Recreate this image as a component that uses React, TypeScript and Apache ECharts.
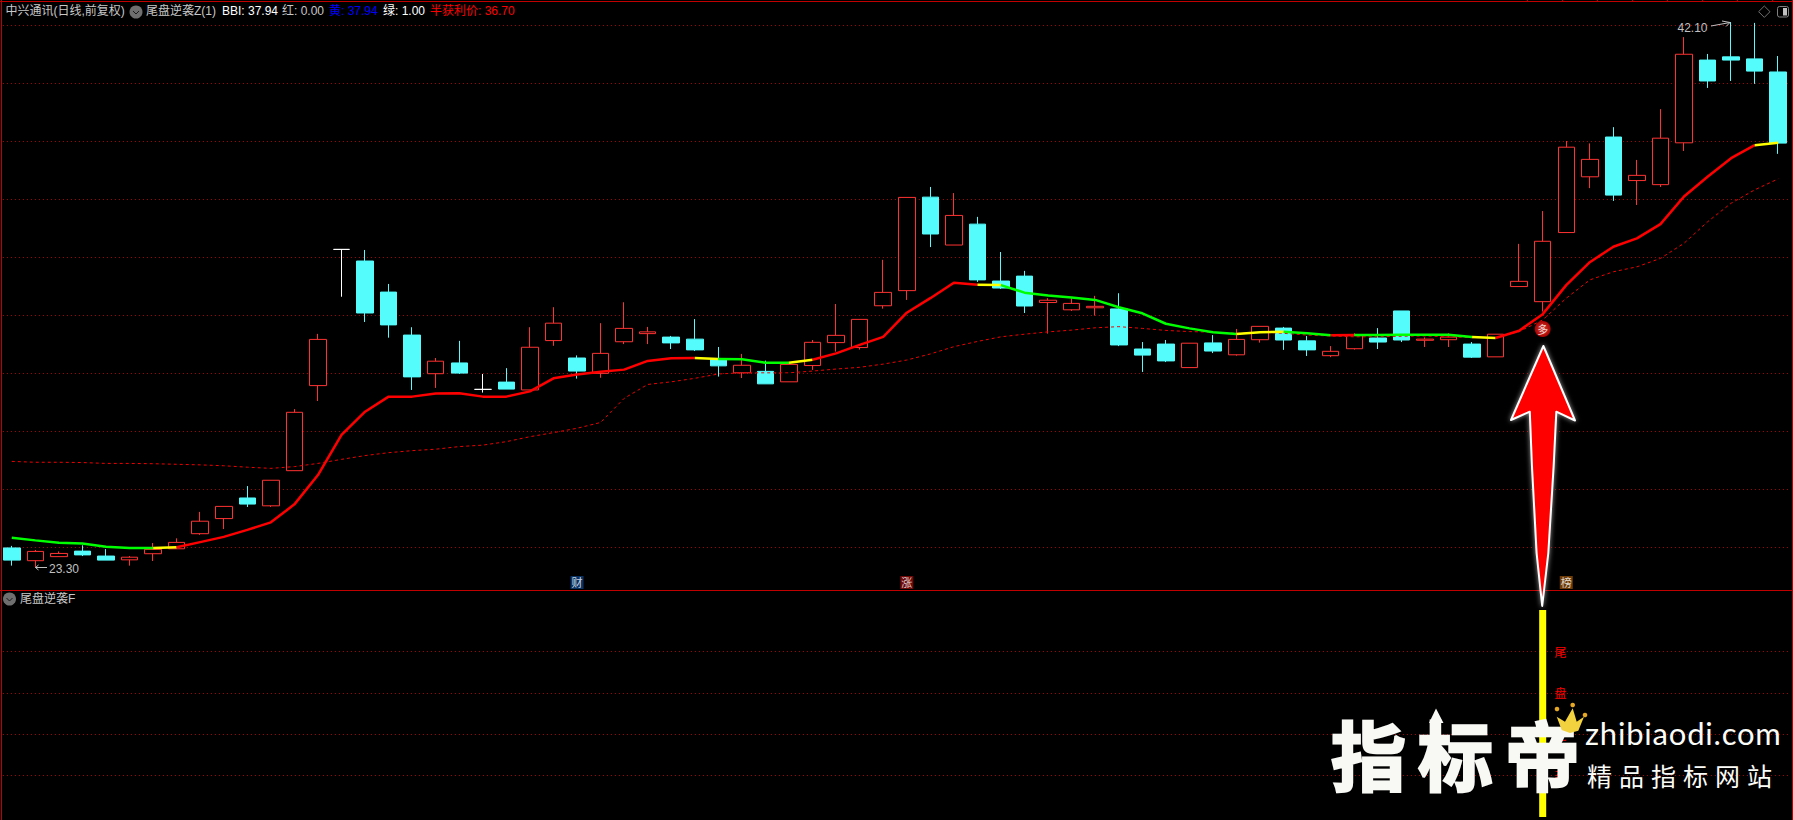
import React, { useEffect, useRef } from "react";
import * as echarts from "echarts";

const opens = [23.99,23.55,23.69,23.88,23.71,23.58,23.79,23.96,24.48,25.00,25.71,25.44,26.65,29.58,34.27,33.87,32.80,31.32,29.99,30.36,29.45,29.70,29.43,31.13,30.53,30.00,31.09,31.37,31.25,31.18,30.49,30.02,30.07,29.71,30.27,31.06,30.89,32.33,32.85,36.07,34.42,35.14,33.18,33.35,32.44,32.19,32.26,32.22,30.84,31.01,30.20,31.05,30.64,31.16,31.56,31.12,30.61,30.85,31.22,32.15,31.14,31.16,31.01,30.57,32.99,32.47,34.85,36.77,38.14,36.64,36.50,37.94,40.79,40.90,40.83,40.38];
const closes = [23.57,23.87,23.80,23.75,23.57,23.67,23.94,24.18,24.91,25.42,25.50,26.32,28.66,31.17,34.27,32.08,31.67,29.88,30.42,30.01,29.45,29.46,30.90,31.73,30.08,30.69,31.55,31.43,31.05,30.81,30.26,30.28,29.64,30.31,31.07,31.31,31.86,32.79,36.06,34.80,35.44,33.22,32.94,32.32,32.52,32.41,32.31,30.98,30.63,30.43,31.04,30.77,31.17,31.62,31.15,30.81,30.76,31.30,31.08,31.15,31.18,31.25,30.56,31.35,33.17,34.55,37.79,37.37,36.14,36.82,38.10,40.99,40.07,40.79,40.41,37.93];
const lows = [23.38,23.30,23.69,23.71,23.57,23.38,23.54,23.96,24.44,24.64,25.40,25.40,26.65,29.05,32.64,31.77,31.23,29.43,29.50,29.98,29.34,29.46,29.43,30.95,29.82,29.85,31.01,31.01,30.84,30.77,29.89,29.84,29.64,29.71,30.12,30.75,30.82,32.23,32.53,34.35,34.42,33.15,32.91,32.08,31.37,32.15,31.99,30.94,30.05,30.39,30.20,30.70,30.61,31.06,30.81,30.60,30.56,30.82,30.84,31.08,30.91,30.91,30.53,30.57,32.99,32.13,34.85,36.38,35.94,35.80,36.42,37.66,39.83,40.07,39.97,37.56];
const highs = [24.06,23.92,23.87,24.08,23.95,23.71,24.16,24.32,25.23,25.42,26.12,26.32,28.77,31.36,34.27,34.25,33.08,31.59,30.53,31.12,29.98,30.18,31.59,32.28,30.62,31.73,32.45,31.60,31.29,31.87,30.91,30.67,30.44,30.31,31.15,32.39,31.86,33.91,36.06,36.42,36.21,35.39,34.18,33.53,32.59,32.59,32.67,32.76,31.08,31.15,31.04,31.32,31.53,31.62,31.60,31.29,30.94,31.38,31.56,32.15,31.24,31.38,31.08,31.35,34.46,35.59,38.00,37.92,38.48,37.35,39.10,41.58,41.00,42.10,42.07,40.93];
const bbi = [24.34,24.25,24.17,24.14,24.03,23.99,23.99,24.01,24.19,24.37,24.61,24.87,25.49,26.50,27.88,28.68,29.20,29.20,29.31,29.32,29.20,29.20,29.38,29.83,29.96,30.06,30.13,30.43,30.52,30.53,30.50,30.49,30.37,30.37,30.47,30.69,30.98,31.26,32.09,32.59,33.12,33.05,33.04,32.78,32.68,32.61,32.53,32.28,32.07,31.71,31.55,31.42,31.36,31.42,31.43,31.38,31.31,31.32,31.32,31.33,31.33,31.33,31.25,31.22,31.47,32.04,33.04,33.83,34.36,34.65,35.14,36.09,36.77,37.41,37.86,37.94];
const halfPrice = [26.97,26.94,26.94,26.93,26.90,26.90,26.89,26.87,26.85,26.82,26.77,26.73,26.79,26.90,27.04,27.17,27.27,27.34,27.39,27.48,27.53,27.65,27.82,27.96,28.11,28.31,29.14,29.62,29.71,29.83,29.98,30.02,30.02,30.02,30.08,30.15,30.21,30.32,30.46,30.67,30.92,31.10,31.26,31.35,31.43,31.49,31.57,31.61,31.55,31.48,31.44,31.42,31.38,31.42,31.38,31.32,31.29,31.26,31.26,31.28,31.29,31.26,31.23,31.24,31.44,31.84,32.59,33.22,33.50,33.67,33.96,34.48,35.22,35.86,36.32,36.70];
const categories = opens.map((_, i) => String(i));

const GREEN = "#00ff00";
const YELLOW = "#ffff00";
const RED = "#ff0000";
const bbiSegments: [number, number, string][] = [
  [0, 6, GREEN], [6, 7, YELLOW], [7, 29, RED], [29, 30, YELLOW], [30, 33, GREEN], [33, 34, YELLOW],
  [34, 41, RED], [41, 42, YELLOW], [42, 52, GREEN], [52, 54, YELLOW], [54, 56, GREEN], [56, 57, RED],
  [57, 62, GREEN], [62, 63, YELLOW], [63, 74, RED], [74, 75, YELLOW],
];
const tagMarks: [number, number, string, string][] = [
  [24, 22.8, "财", "#0b3f7c"],
  [38, 22.8, "涨", "#8c0a0a"],
  [66, 22.8, "榜", "#8a4a08"],
];
const signalIndex = 65;
const signalPrice = 31.53;
const subSignal = opens.map((_, i) => (i === signalIndex ? 1 : null));
const headerItems: [string, number, string][] = [
  ["中兴通讯(日线,前复权)", 5.5, "#c8c8c8"],
  ["尾盘逆袭Z(1)", 146, "#c8c8c8"],
  ["BBI: 37.94", 222, "#ffffff"],
  ["红: 0.00", 282, "#c8c8c8"],
  ["黄: 37.94", 329, "#0000ff"],
  ["绿: 1.00", 383, "#ffffff"],
  ["半获利价: 36.70", 430, "#ff0000"],
];
const subLabels: [string, number][] = [["尾", 651], ["盘", 692], ["逆", 734], ["袭", 775]];

const FONT = '"Liberation Sans", "Noto Sans CJK SC", sans-serif';
const CJK = '"Noto Sans CJK SC", sans-serif';
const FRAME = "#c00000";

function txt(text: string, x: number, y: number, fill: string, extra: any = {}) {
  return {
    type: "text", x, y, z: 50, silent: true,
    style: { text, fill, font: `12px ${FONT}`, textAlign: "left", textVerticalAlign: "middle", ...extra },
  };
}
function line(x1: number, y1: number, x2: number, y2: number, stroke: string, lineWidth = 1) {
  return { type: "line", z: 40, silent: true, shape: { x1, y1, x2, y2 }, style: { stroke, lineWidth } };
}
function poly(points: number[][], stroke: string) {
  return { type: "polyline", z: 50, silent: true, shape: { points }, style: { stroke, fill: "none", lineWidth: 1 } };
}
function menuIcon(x: number, y: number) {
  return [
    { type: "circle", z: 50, silent: true, shape: { cx: x, cy: y, r: 6.5 }, style: { fill: "#6f6f6f" } },
    poly([[x - 3, y - 1], [x, y + 2], [x + 3, y - 1]], "#1c1c1c"),
  ];
}

function graphics(): any[] {
  const wm = { shadowBlur: 6, shadowColor: "rgba(255,255,255,0.55)" };
  const out: any[] = [
    line(0, 1.5, 1793, 1.5, FRAME),
    line(1.5, 0, 1.5, 820, FRAME),
    line(1792.5, 0, 1792.5, 820, FRAME),
    line(0, 590.5, 1793, 590.5, FRAME),
    ...[1527, 1562, 1597, 1632, 1667, 1702, 1737, 1772].map((x) => line(x + 0.5, 0, x + 0.5, 2, FRAME)),
    ...headerItems.map(([t, x, c]) => txt(t, x, 11, c)),
    ...menuIcon(136, 12),
    ...menuIcon(9.5, 599),
    txt("尾盘逆袭F", 20, 599, "#c8c8c8"),
    txt("23.30", 49, 568.5, "#c0c0c0"),
    poly([[47, 567.5], [35.5, 567.5]], "#c0c0c0"),
    poly([[38.5, 565], [35.5, 567.5], [38.5, 570]], "#c0c0c0"),
    txt("42.10", 1677.5, 27.5, "#c0c0c0"),
    poly([[1711, 26], [1730, 22.5]], "#c0c0c0"),
    poly([[1722, 21], [1730, 22.5], [1726, 26.5]], "#c0c0c0"),
    { type: "polygon", z: 50, silent: true, shape: { points: [[1764.3, 6], [1770, 11.7], [1764.3, 17.4], [1758.6, 11.7]] }, style: { fill: "none", stroke: "#707070", lineWidth: 1 } },
    { type: "rect", z: 50, silent: true, shape: { x: 1777.5, y: 6.5, width: 11, height: 10.5, r: 2 }, style: { fill: "none", stroke: "#808080", lineWidth: 1 } },
    { type: "rect", z: 50, silent: true, shape: { x: 1783, y: 8, width: 4, height: 7.5 }, style: { fill: "#c0c0c0" } },
    ...subLabels.map(([t, y]) => txt(t, 1554.5, y, "#ff0000", { font: `12px ${CJK}` })),
    // large arrow
    {
      type: "polygon", z: 60, silent: true,
      shape: {
        points: [[1543.4, 346], [1575, 420.5], [1556.3, 411.7], [1553.6, 466.7], [1548.3, 553], [1542.2, 606], [1536.6, 553], [1532, 466.7], [1529.8, 411.7], [1511, 420]],
      },
      style: { fill: "#ff0000", stroke: "#ffffff", lineWidth: 2, lineJoin: "round", shadowBlur: 5, shadowColor: "rgba(255,255,255,0.6)" },
    },
    // watermark
    { type: "polygon", z: 70, silent: true, shape: { points: [[1436, 708.5], [1443.5, 723], [1439.5, 723], [1439.5, 735], [1432.5, 735], [1432.5, 723], [1429, 723]] }, style: { fill: "#f8f9f5" } },
    txt("指标帝", 1331, 752, "#f8f9f5", { font: `bold 75px ${CJK}`, stroke: "#f8f9f5", lineWidth: 2.5, ...wm }),
    txt("zhibiaodi.com", 1585, 733, "#fbfbf8", { font: `31px Lato, sans-serif`, ...wm }),
    txt("精品指标网站", 1587, 775, "#fbfbf8", { font: `25px ${CJK}`, ...wm }),
    { type: "polygon", z: 71, silent: true, shape: { points: [[1561.7, 730], [1556.7, 716.7], [1565, 721.7], [1572.7, 708.3], [1576.7, 721.7], [1584, 716.7], [1578.3, 730.7], [1570, 733]] }, style: { fill: "#f3d23f" } },
    { type: "circle", z: 71, silent: true, shape: { cx: 1557, cy: 709, r: 2.3 }, style: { fill: "#e6a823" } },
    { type: "circle", z: 71, silent: true, shape: { cx: 1572.7, cy: 705, r: 2.3 }, style: { fill: "#e6a823" } },
    { type: "circle", z: 71, silent: true, shape: { cx: 1585, cy: 715, r: 2.3 }, style: { fill: "#e6a823" } },
  ];
  return out;
}

export default function App() {
  const ref = useRef<HTMLDivElement>(null);
  useEffect(() => {
    document.body.style.margin = "0";
    document.body.style.background = "#000";
    const chart = echarts.init(ref.current!, undefined, { renderer: "svg" });
    const guide = { show: true, lineStyle: { color: "#a80000", width: 1, type: [1, 3] as any } };
    const hiddenX = (gridIndex: number, data: string[]) => ({
      type: "category" as const, gridIndex, data, show: false,
    });
    const candleData = opens.map((o, i) => {
      const value = [o, closes[i], lows[i], highs[i]];
      return o === closes[i]
        ? { value, itemStyle: { color: "#fff", color0: "#fff", borderColor: "#fff", borderColor0: "#fff", borderColorDoji: "#fff" } }
        : { value };
    });
    chart.setOption({
      animation: false,
      backgroundColor: "#000",
      tooltip: { show: false },
      grid: [
        { left: 0, top: 1, width: 1790, height: 589 },
        { left: 3, top: 25.5, width: 1787, height: 522 },
        { left: 3, top: 651.5, width: 1787, height: 124 },
        { left: 0, top: 610, width: 1790, height: 207 },
      ],
      xAxis: [hiddenX(0, categories), hiddenX(1, []), hiddenX(2, []), hiddenX(3, categories)],
      yAxis: [
        { type: "value", gridIndex: 0, min: 22.541, max: 42.824, show: false, splitLine: { show: false } },
        { type: "value", gridIndex: 1, min: 0, max: 9, interval: 1, axisLine: { show: false }, axisTick: { show: false }, axisLabel: { show: false }, splitLine: guide },
        { type: "value", gridIndex: 2, min: 0, max: 3, interval: 1, axisLine: { show: false }, axisTick: { show: false }, axisLabel: { show: false }, splitLine: guide },
        { type: "value", gridIndex: 3, min: 0, max: 1, show: false, splitLine: { show: false } },
      ],
      series: [
        {
          type: "candlestick", xAxisIndex: 0, yAxisIndex: 0, barWidth: 17, silent: true,
          data: candleData,
          itemStyle: { color: "#000000", color0: "#54fcfc", borderColor: "#ff3232", borderColor0: "#54fcfc", borderWidth: 1 },
        },
        {
          type: "line", xAxisIndex: 0, yAxisIndex: 0, data: halfPrice, symbol: "none", silent: true,
          lineStyle: { color: "#f00000", width: 1, type: [3, 3] },
        },
        ...bbiSegments.map(([a, b, color]) => ({
          type: "line", xAxisIndex: 0, yAxisIndex: 0, symbol: "none", silent: true, connectNulls: false,
          data: bbi.map((v, i) => (i >= a && i <= b ? v : null)),
          lineStyle: { color, width: 2.5 },
        })),
        {
          type: "scatter", xAxisIndex: 0, yAxisIndex: 0, silent: true, symbol: "circle", symbolSize: 16,
          data: [{ value: [signalIndex, signalPrice], name: "多" }],
          itemStyle: {
            color: new echarts.graphic.RadialGradient(0.5, 0.5, 0.5, [
              { offset: 0, color: "#ff5a4a" },
              { offset: 1, color: "#d80000" },
            ]),
          },
          label: { show: true, position: "inside", formatter: "{b}", color: "#fff", fontSize: 11, fontFamily: CJK },
        },
        {
          type: "scatter", xAxisIndex: 0, yAxisIndex: 0, silent: true, symbol: "rect", symbolSize: 13,
          data: tagMarks.map(([i, v, name, color]) => ({ value: [i, v], name, itemStyle: { color } })),
          label: { show: true, position: "inside", formatter: "{b}", color: "#fff", fontSize: 11, fontFamily: CJK },
        },
        {
          type: "bar", xAxisIndex: 3, yAxisIndex: 3, data: subSignal, barWidth: 7, silent: true,
          itemStyle: { color: "#ffff00" },
        },
      ],
      graphic: graphics(),
    });
    const spacing: Record<string, string> = { "指标帝": "12px", "精品指标网站": "7px", "zhibiaodi.com": "0.8px" };
    ref.current!.querySelectorAll("text").forEach((t) => {
      const s = spacing[t.textContent || ""];
      if (s) t.setAttribute("letter-spacing", s);
    });
    return () => chart.dispose();
  }, []);
  return <div ref={ref} style={{ position: "absolute", left: 0, top: 0, width: 1793, height: 820, background: "#000" }} />;
}
